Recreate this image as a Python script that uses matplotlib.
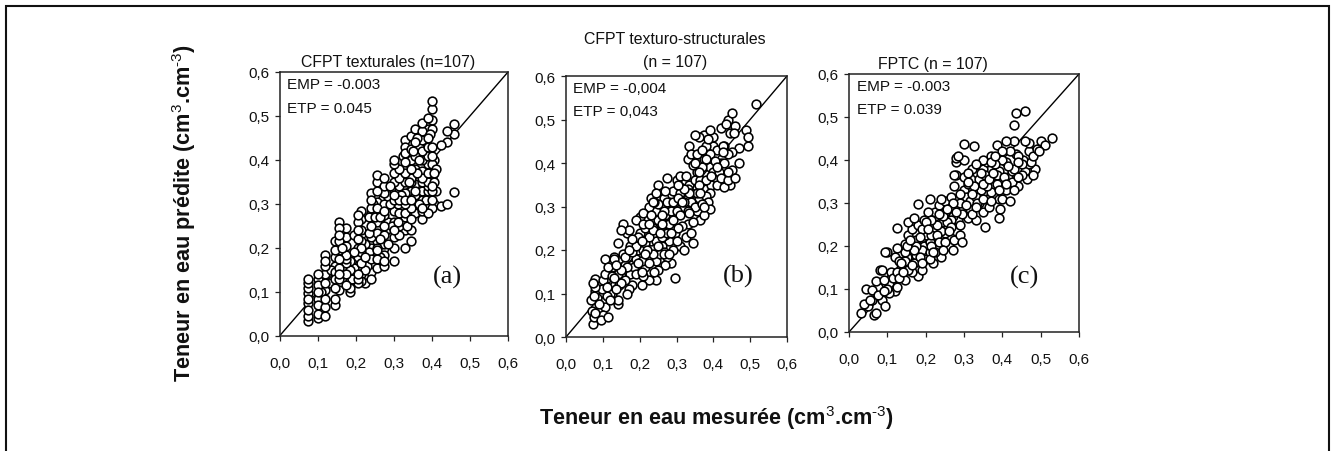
import matplotlib
matplotlib.use("Agg")
import matplotlib.pyplot as plt
from matplotlib.patches import Rectangle

plt.rcParams['font.family'] = ['Liberation Sans', 'DejaVu Sans']
plt.rcParams['mathtext.fontset'] = 'custom'
plt.rcParams['mathtext.rm'] = 'Liberation Sans'
plt.rcParams['mathtext.bf'] = 'Liberation Sans:bold'
plt.rcParams['mathtext.default'] = 'rm'

tick_values = [0.0, 0.1, 0.2, 0.3, 0.4, 0.5, 0.6]
tick_labels = ['0,0', '0,1', '0,2', '0,3', '0,4', '0,5', '0,6']

# Panel (a): measured values are discrete, so points are listed per column
a_columns = [0.075, 0.10, 0.12, 0.147, 0.155, 0.175, 0.185, 0.205, 0.215, 0.225, 0.24, 0.255,
             0.275, 0.30, 0.315, 0.33, 0.345, 0.355, 0.375, 0.39, 0.40, 0.425, 0.44, 0.457]
a_values = [
    [0.035, 0.045, 0.06, 0.075, 0.085, 0.097, 0.11, 0.12, 0.13],
    [0.04, 0.05, 0.07, 0.085, 0.10, 0.115, 0.13, 0.14],
    [0.045, 0.065, 0.085, 0.105, 0.12, 0.14, 0.16, 0.17, 0.185],
    [0.07, 0.085, 0.11, 0.13, 0.145, 0.16, 0.18, 0.195, 0.215],
    [0.105, 0.13, 0.155, 0.175, 0.195, 0.215, 0.23, 0.245, 0.26],
    [0.115, 0.14, 0.165, 0.185, 0.205, 0.225, 0.245],
    [0.10, 0.11, 0.125, 0.15, 0.17],
    [0.12, 0.14, 0.16, 0.18, 0.20, 0.22, 0.24, 0.26, 0.275],
    [0.125, 0.14, 0.165, 0.19, 0.215, 0.24, 0.265, 0.285],
    [0.12, 0.15, 0.18, 0.21],
    [0.13, 0.145, 0.175, 0.20, 0.225, 0.25, 0.28, 0.31, 0.325],
    [0.155, 0.175, 0.195, 0.215, 0.235, 0.26, 0.28, 0.305, 0.33, 0.35, 0.365],
    [0.16, 0.17, 0.185, 0.21, 0.23, 0.25, 0.275, 0.30, 0.325, 0.34, 0.36],
    [0.17, 0.20, 0.225, 0.26, 0.285, 0.31, 0.33, 0.35, 0.37, 0.39, 0.40],
    [0.23, 0.25, 0.28, 0.31, 0.34, 0.36, 0.38],
    [0.20, 0.24, 0.26, 0.28, 0.30, 0.325, 0.35, 0.37, 0.395, 0.415, 0.43, 0.445],
    [0.215, 0.24, 0.265, 0.29, 0.31, 0.33, 0.36, 0.38, 0.40, 0.425, 0.455],
    [0.28, 0.30, 0.32, 0.345, 0.38, 0.41, 0.44, 0.47],
    [0.265, 0.285, 0.31, 0.33, 0.35, 0.375, 0.40, 0.42, 0.445, 0.465, 0.485],
    [0.28, 0.30, 0.33, 0.35, 0.37, 0.39, 0.41, 0.43, 0.45, 0.47, 0.495],
    [0.29, 0.31, 0.34, 0.37, 0.39, 0.43, 0.47, 0.49, 0.515, 0.535],
    [0.295, 0.435],
    [0.30, 0.44, 0.465],
    [0.328, 0.46, 0.482],
]
a_under_x = [0.11, 0.13, 0.135, 0.165, 0.165, 0.19, 0.195, 0.195, 0.195, 0.23, 0.235, 0.235, 0.235, 0.245, 0.265, 0.265,
             0.265, 0.265, 0.285, 0.285, 0.29, 0.29, 0.31, 0.31, 0.32, 0.32, 0.325, 0.325, 0.335, 0.34, 0.34, 0.365,
             0.365, 0.365, 0.385, 0.385, 0.385, 0.405, 0.405, 0.405, 0.41, 0.41, 0.25, 0.25, 0.28, 0.295, 0.35, 0.36,
             0.255, 0.255, 0.275, 0.30, 0.30, 0.33, 0.33, 0.375, 0.375, 0.39, 0.40, 0.40, 0.205, 0.215, 0.155, 0.175,
             0.24, 0.24, 0.345, 0.355, 0.315, 0.275, 0.40, 0.405, 0.395, 0.36]
a_under_y = [0.10, 0.12, 0.15, 0.14, 0.20, 0.13, 0.155, 0.19, 0.23, 0.16, 0.19, 0.235, 0.27, 0.30, 0.18, 0.22,
             0.27, 0.31, 0.21, 0.26, 0.30, 0.34, 0.26, 0.30, 0.32, 0.36, 0.38, 0.41, 0.25, 0.30, 0.35, 0.30,
             0.34, 0.40, 0.31, 0.36, 0.44, 0.30, 0.35, 0.40, 0.33, 0.38, 0.27, 0.32, 0.24, 0.25, 0.42, 0.45,
             0.20, 0.29, 0.20, 0.24, 0.32, 0.27, 0.31, 0.29, 0.36, 0.34, 0.33, 0.36, 0.13, 0.20, 0.14, 0.175,
             0.19, 0.29, 0.35, 0.33, 0.33, 0.285, 0.41, 0.37, 0.46, 0.37]

# Panel (b)
b_x = [0.072, 0.075, 0.07, 0.078, 0.068, 0.075, 0.08, 0.072, 0.078, 0.095, 0.10, 0.09, 0.105, 0.098, 0.11, 0.092,
       0.115, 0.11, 0.105, 0.12, 0.115, 0.13, 0.14, 0.135, 0.14, 0.145, 0.135, 0.15, 0.145, 0.15, 0.14, 0.155,
       0.15, 0.165, 0.17, 0.175, 0.16, 0.18, 0.185, 0.175, 0.19, 0.17, 0.195, 0.18, 0.19, 0.205, 0.21, 0.215,
       0.205, 0.21, 0.215, 0.22, 0.2, 0.225, 0.21, 0.23, 0.245, 0.24, 0.25, 0.245, 0.25, 0.235, 0.24, 0.255,
       0.245, 0.26, 0.25, 0.245, 0.235, 0.25, 0.265, 0.27, 0.275, 0.26, 0.27, 0.28, 0.265, 0.275, 0.285, 0.29,
       0.28, 0.295, 0.285, 0.29, 0.27, 0.275, 0.3, 0.305, 0.32, 0.315, 0.325, 0.31, 0.32, 0.33, 0.325, 0.31,
       0.345, 0.34, 0.345, 0.335, 0.34, 0.33, 0.35, 0.345, 0.34, 0.335, 0.33, 0.355, 0.35, 0.36, 0.365, 0.375,
       0.37, 0.38, 0.375, 0.36, 0.37, 0.38, 0.39, 0.385, 0.395, 0.39, 0.38, 0.395, 0.385, 0.39, 0.375, 0.365,
       0.405, 0.41, 0.42, 0.43, 0.42, 0.425, 0.44, 0.445, 0.45, 0.44, 0.445, 0.45, 0.425, 0.435, 0.44, 0.45,
       0.445, 0.46, 0.46, 0.47, 0.495, 0.495, 0.49, 0.515, 0.26, 0.265, 0.295, 0.225, 0.13, 0.125, 0.105]
b_y = [0.03, 0.045, 0.06, 0.055, 0.085, 0.095, 0.105, 0.125, 0.133, 0.04, 0.05, 0.075, 0.07, 0.11, 0.095, 0.12,
       0.045, 0.115, 0.145, 0.085, 0.16, 0.135, 0.075, 0.11, 0.085, 0.12, 0.165, 0.125, 0.18, 0.155, 0.215, 0.26,
       0.245, 0.10, 0.11, 0.145, 0.165, 0.12, 0.16, 0.21, 0.18, 0.245, 0.23, 0.225, 0.27, 0.12, 0.14, 0.16,
       0.175, 0.20, 0.215, 0.24, 0.275, 0.26, 0.285, 0.32, 0.13, 0.15, 0.155, 0.175, 0.21, 0.245, 0.27, 0.225,
       0.29, 0.28, 0.305, 0.33, 0.31, 0.35, 0.19, 0.165, 0.185, 0.21, 0.235, 0.22, 0.26, 0.31, 0.17, 0.20,
       0.26, 0.24, 0.29, 0.335, 0.335, 0.365, 0.36, 0.32, 0.20, 0.255, 0.23, 0.28, 0.30, 0.29, 0.37, 0.345,
       0.215, 0.24, 0.265, 0.285, 0.31, 0.34, 0.36, 0.395, 0.42, 0.44, 0.41, 0.38, 0.465, 0.46, 0.27, 0.28,
       0.305, 0.325, 0.345, 0.38, 0.43, 0.44, 0.295, 0.31, 0.35, 0.39, 0.41, 0.37, 0.455, 0.475, 0.465, 0.36,
       0.405, 0.43, 0.365, 0.345, 0.48, 0.425, 0.36, 0.37, 0.385, 0.42, 0.47, 0.425, 0.44, 0.49, 0.5, 0.515,
       0.35, 0.365, 0.485, 0.435, 0.44, 0.46, 0.475, 0.535, 0.23, 0.195, 0.135, 0.13, 0.185, 0.17, 0.18]
b_under_x = [0.085, 0.09, 0.10, 0.11, 0.125, 0.125, 0.13, 0.155, 0.16, 0.165, 0.17, 0.18, 0.19, 0.195, 0.20, 0.205, 0.215,
             0.22, 0.225, 0.225, 0.23, 0.235, 0.24, 0.255, 0.26, 0.265, 0.27, 0.28, 0.285, 0.29, 0.295, 0.30, 0.305, 0.31,
             0.315, 0.32, 0.33, 0.335, 0.35, 0.355, 0.36, 0.365, 0.37, 0.375, 0.38, 0.39, 0.40, 0.41, 0.41, 0.42, 0.43,
             0.30, 0.28, 0.245, 0.21, 0.19, 0.165, 0.35, 0.31, 0.265, 0.225, 0.355, 0.305, 0.40, 0.43, 0.195, 0.15, 0.31,
             0.23, 0.25, 0.27, 0.215, 0.18, 0.16, 0.30, 0.32, 0.34, 0.36, 0.38, 0.39, 0.375, 0.355, 0.335, 0.29,
             0.275, 0.255, 0.235, 0.205, 0.125, 0.14, 0.12, 0.09, 0.08, 0.40, 0.415, 0.44, 0.455, 0.47]
b_under_y = [0.09, 0.10, 0.13, 0.135, 0.10, 0.14, 0.18, 0.19, 0.13, 0.16, 0.20, 0.165, 0.145, 0.20, 0.24, 0.15, 0.19,
             0.20, 0.17, 0.23, 0.28, 0.25, 0.31, 0.19, 0.26, 0.29, 0.28, 0.31, 0.24, 0.27, 0.31, 0.29, 0.25, 0.33,
             0.31, 0.34, 0.26, 0.33, 0.30, 0.33, 0.35, 0.33, 0.39, 0.30, 0.36, 0.33, 0.38, 0.39, 0.35, 0.40, 0.44,
             0.22, 0.19, 0.22, 0.26, 0.21, 0.24, 0.40, 0.37, 0.32, 0.30, 0.42, 0.35, 0.44, 0.40, 0.17, 0.14, 0.21,
             0.22, 0.27, 0.26, 0.25, 0.195, 0.185, 0.33, 0.31, 0.33, 0.32, 0.34, 0.42, 0.41, 0.29, 0.35, 0.31,
             0.24, 0.24, 0.19, 0.22, 0.16, 0.145, 0.10, 0.105, 0.115, 0.46, 0.38, 0.38, 0.47, 0.40]

# Panel (c)
c_x = [0.03, 0.04, 0.05, 0.055, 0.045, 0.06, 0.065, 0.07, 0.06, 0.07, 0.08, 0.075, 0.085, 0.09, 0.095, 0.085,
       0.10, 0.10, 0.105, 0.095, 0.11, 0.12, 0.115, 0.125, 0.13, 0.12, 0.135, 0.125, 0.14, 0.145, 0.15, 0.15,
       0.135, 0.145, 0.155, 0.16, 0.165, 0.155, 0.17, 0.18, 0.175, 0.16, 0.17, 0.18, 0.165, 0.175, 0.19, 0.2,
       0.195, 0.185, 0.2, 0.195, 0.21, 0.22, 0.215, 0.205, 0.215, 0.205, 0.18, 0.21, 0.225, 0.235, 0.24, 0.23,
       0.245, 0.25, 0.235, 0.24, 0.225, 0.235, 0.245, 0.25, 0.26, 0.27, 0.275, 0.26, 0.265, 0.28, 0.29, 0.295,
       0.285, 0.265, 0.275, 0.29, 0.28, 0.3, 0.31, 0.305, 0.3, 0.31, 0.32, 0.33, 0.335, 0.325, 0.31, 0.32,
       0.34, 0.345, 0.355, 0.35, 0.36, 0.355, 0.345, 0.33, 0.35, 0.365, 0.37, 0.375, 0.38, 0.39, 0.395, 0.37,
       0.385, 0.38, 0.36, 0.39, 0.4, 0.41, 0.42, 0.415, 0.425, 0.4, 0.41, 0.425, 0.43, 0.435, 0.44, 0.45,
       0.44, 0.45, 0.46, 0.47, 0.48, 0.465, 0.475, 0.48, 0.47, 0.46, 0.49, 0.5, 0.51, 0.53, 0.485, 0.495,
       0.46, 0.435, 0.43, 0.3, 0.325, 0.285, 0.28, 0.28, 0.125, 0.275, 0.385, 0.41, 0.42]
c_y = [0.045, 0.065, 0.06, 0.075, 0.10, 0.098, 0.04, 0.045, 0.075, 0.118, 0.145, 0.105, 0.075, 0.12, 0.06, 0.145,
       0.10, 0.185, 0.09, 0.185, 0.14, 0.095, 0.11, 0.105, 0.125, 0.175, 0.15, 0.195, 0.14, 0.12, 0.165, 0.20,
       0.16, 0.205, 0.145, 0.18, 0.14, 0.255, 0.16, 0.13, 0.18, 0.215, 0.265, 0.25, 0.24, 0.2, 0.145, 0.17,
       0.20, 0.22, 0.225, 0.26, 0.17, 0.16, 0.20, 0.24, 0.26, 0.28, 0.298, 0.31, 0.185, 0.21, 0.175, 0.25,
       0.19, 0.23, 0.275, 0.31, 0.28, 0.295, 0.27, 0.305, 0.20, 0.19, 0.215, 0.235, 0.26, 0.235, 0.225, 0.21,
       0.26, 0.315, 0.34, 0.30, 0.365, 0.33, 0.265, 0.295, 0.40, 0.345, 0.275, 0.26, 0.30, 0.34, 0.37, 0.38,
       0.30, 0.33, 0.245, 0.28, 0.31, 0.365, 0.37, 0.39, 0.40, 0.29, 0.325, 0.37, 0.39, 0.265, 0.285, 0.41,
       0.345, 0.41, 0.395, 0.375, 0.31, 0.33, 0.305, 0.36, 0.35, 0.42, 0.395, 0.375, 0.445, 0.415, 0.34, 0.365,
       0.36, 0.39, 0.375, 0.42, 0.365, 0.355, 0.395, 0.41, 0.44, 0.445, 0.425, 0.445, 0.435, 0.452, 0.38, 0.42,
       0.515, 0.51, 0.482, 0.438, 0.432, 0.41, 0.405, 0.395, 0.242, 0.365, 0.435, 0.445, 0.42]
c_under_x = [0.075, 0.09, 0.105, 0.115, 0.125, 0.135, 0.145, 0.165, 0.17, 0.185, 0.19, 0.205, 0.215, 0.22, 0.23, 0.24,
             0.25, 0.255, 0.265, 0.27, 0.28, 0.29, 0.295, 0.305, 0.315, 0.32, 0.33, 0.34, 0.35, 0.36, 0.365, 0.375,
             0.385, 0.395, 0.405, 0.415, 0.43, 0.44, 0.455, 0.19, 0.225, 0.255, 0.30, 0.335, 0.37, 0.40, 0.145, 0.21,
             0.245, 0.315, 0.35, 0.39, 0.43, 0.28, 0.20, 0.155,
             0.11, 0.13, 0.15, 0.175, 0.19, 0.21, 0.23, 0.25, 0.27, 0.29, 0.31, 0.33, 0.35, 0.37, 0.39, 0.41, 0.44, 0.47]
c_under_y = [0.085, 0.095, 0.115, 0.125, 0.14, 0.13, 0.165, 0.155, 0.19, 0.175, 0.19, 0.205, 0.225, 0.185, 0.225, 0.235,
             0.21, 0.255, 0.245, 0.27, 0.28, 0.25, 0.275, 0.315, 0.305, 0.32, 0.315, 0.355, 0.345, 0.34, 0.355, 0.345,
             0.365, 0.35, 0.36, 0.385, 0.38, 0.395, 0.40, 0.24, 0.27, 0.285, 0.36, 0.37, 0.395, 0.40, 0.185, 0.185,
             0.255, 0.285, 0.31, 0.33, 0.33, 0.31, 0.255, 0.225,
             0.125, 0.165, 0.175, 0.215, 0.16, 0.21, 0.195, 0.28, 0.30, 0.32, 0.35, 0.29, 0.38, 0.305, 0.31, 0.345, 0.41, 0.39]


def flatten_columns(columns, values):
    xs, ys = [], []
    for col, vals in zip(columns, values):
        xs += [col] * len(vals)
        ys += vals
    return xs, ys


def mixed_draw_order(xs, ys):
    # Overlaps in the source have no sorted layering; reorder only, values unchanged.
    pairs = sorted(zip(xs, ys), key=lambda p: (p[0] * 137.3 + p[1] * 311.7) % 1)
    return [p[0] for p in pairs], [p[1] for p in pairs]


a_x, a_y = flatten_columns(a_columns, a_values)

W, H = 1332, 452
fig = plt.figure(figsize=(W / 100, H / 100), dpi=100)
fig.patch.set_facecolor('white')


def make_axes(l, r, t, b):
    return fig.add_axes([l / W, 1 - b / H, (r - l) / W, (b - t) / H])


panels = [
    (make_axes(279.5, 508, 73, 337), a_under_x + a_x, a_under_y + a_y, 'EMP = -0.003', 'ETP = 0.045', '(a)', 0.737, 0.227),
    (make_axes(566, 787, 77, 338), b_under_x + b_x, b_under_y + b_y, 'EMP = -0,004', 'ETP = 0,043', '(b)', 0.778, 0.234),
    (make_axes(849, 1079, 75, 333), c_under_x + c_x, c_under_y + c_y, 'EMP = -0.003', 'ETP = 0.039', '(c)', 0.765, 0.217),
]
for ax, xs, ys, emp, etp, tag, tx, ty in panels:
    mx, my = mixed_draw_order(xs, ys)
    ax.plot(mx, my, ls='none', marker='o', ms=6.3, mfc='white', mec='black', mew=1.15, zorder=2)
    ax.plot([0, 0.6], [0, 0.6], color='black', lw=1.0, zorder=1.5)
    ax.set_xlim(0, 0.6)
    ax.set_ylim(0, 0.6)
    ax.set_xticks(tick_values, tick_labels)
    ax.set_yticks(tick_values, tick_labels)
    ax.tick_params(length=3.5, width=0.9, labelsize=11, pad=4, color='#222222', labelcolor='#111111')
    ax.tick_params(axis='x', pad=11)
    for s in ax.spines.values():
        s.set_linewidth(1.1)
        s.set_color('#222222')
    ax.text(0.033, 0.953, emp, transform=ax.transAxes, fontsize=11, va='center', ha='left', color='#111111')
    ax.text(0.033, 0.865, etp, transform=ax.transAxes, fontsize=11, va='center', ha='left', color='#111111')
    ax.text(tx, ty, tag, transform=ax.transAxes, fontsize=19, va='center', ha='center',
            family='Liberation Serif', color='#111111')


def px_text(x, y, s, **kw):
    fig.text(x / W, 1 - y / H, s, ha='center', va='center', **kw)


px_text(388, 62, 'CFPT texturales (n=107)', fontsize=11.4, color='#111111')
px_text(675, 39, 'CFPT texturo-structurales', fontsize=11.4, color='#111111')
px_text(675, 62, '(n = 107)', fontsize=11.4, color='#111111')
px_text(933, 65, 'FPTC (n = 107)', fontsize=11.4, color='#111111')
px_text(184, 212.5, r'Teneur en eau prédite (cm$^{3}$.cm$^{\text{-3}}$)', fontsize=15.6, fontweight='bold',
        rotation=90, color='#111111')
px_text(716, 418, r'Teneur en eau mesurée (cm$^{3}$.cm$^{\text{-3}}$)', fontsize=15.6, fontweight='bold', color='#111111')

fig.add_artist(Rectangle((6 / W, -10 / H), (1329 - 6) / W, (445 + 10) / H, transform=fig.transFigure,
                         fill=False, ec='#111111', lw=1.5))
fig.savefig('out.png', dpi=100)
